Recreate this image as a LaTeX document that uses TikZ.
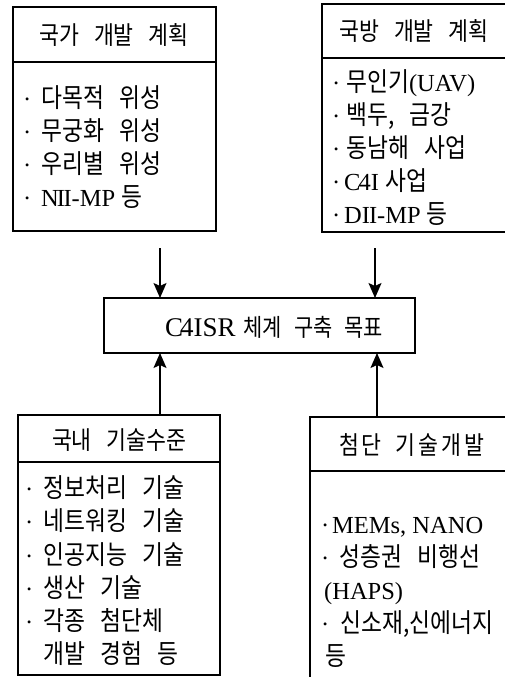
\documentclass[tikz,border=0pt]{standalone}
\usepackage{fontspec}
\setmainfont{Liberation Serif}
\newfontfamily\kr[Scale=1.08, WordSpace=3.0, FakeStretch=0.86]{Noto Sans CJK KR}
\usetikzlibrary{arrows.meta}
\newcommand{\bul}{\makebox[19pt][l]{\hspace{1pt}·}}
\begin{document}
\begin{tikzpicture}[x=1pt,y=-1pt,
  box/.style={draw, line width=1.6pt, inner sep=0pt, outer sep=0pt},
  hline/.style={line width=1.6pt},
  itm/.style={anchor=base west, inner sep=0pt, font=\fontsize{24.5}{26}\selectfont},
  ttl/.style={anchor=base, inner sep=0pt, font=\fontsize{23.3}{26}\selectfont\kr},
  arr/.style={line width=1.4pt, -{Stealth[length=15pt,width=13pt,inset=3pt]}}]
\useasboundingbox (0,0) rectangle (505,677);
\clip (0,0) rectangle (505,677);
% boxes
\node[box, minimum width=203pt, minimum height=224pt] (tl) at (114.5,119) {};
\node[box, minimum width=208pt, minimum height=228pt] (tr) at (426,118) {};
\node[box, minimum width=311pt, minimum height=55pt] (c) at (259.5,325.5) {};
\node[box, minimum width=202pt, minimum height=260pt] (bl) at (119,545) {};
\node[box, minimum width=220pt, minimum height=283pt] (br) at (420,558.5) {};
% header lines
\draw[hline] (tl.west |- 0,62) -- (tl.east |- 0,62);
\draw[hline] (tr.west |- 0,58) -- (tr.east |- 0,58);
\draw[hline] (bl.west |- 0,462) -- (bl.east |- 0,462);
\draw[hline] (br.west |- 0,471) -- (br.east |- 0,471);
% titles
\node[ttl] (tlt) at (114,45) {국가 개발 계획};
\node[ttl] (trt) at (414,41) {국방 개발 계획};
\node[ttl] (blt) at (119,449) {국내 기술수준};
\node[ttl] (brt) at (412,454) {첨\kern2pt 단 기\kern3pt 술\kern3pt 개\kern3pt 발};
% top-left items
\node[itm] (tl1) at (22,107) {\bul{\kr 다목적 위성}};
\node[itm] (tl2) at (22,140) {\bul{\kr 무궁화 위성}};
\node[itm] (tl3) at (22,173) {\bul{\kr 우리별 위성}};
\node[itm] (tl4) at (22,206) {\bul N\kern-2pt I\kern-1.5pt I-MP {\kr 등}};
% top-right items
\node[itm] (tr1) at (331,91) {\makebox[15pt][l]{\hspace{1pt}·}{\kr 무인기}(UAV)};
\node[itm] (tr2) at (331,124) {\makebox[15pt][l]{\hspace{1pt}·}{\kr 백두, 금강}};
\node[itm] (tr3) at (331,157) {\makebox[15pt][l]{\hspace{1pt}·}{\kr 동남해 사업}};
\node[itm] (tr4) at (331,190) {\makebox[13pt][l]{\hspace{1pt}·}C\kern-2pt4I {\kr 사업}};
\node[itm] (tr5) at (331,223) {\makebox[13pt][l]{\hspace{1pt}·}DI\kern-1pt I-MP {\kr 등}};
% center
\node[anchor=base west, inner sep=0pt, font=\fontsize{27}{28}\selectfont] (ct) at (165,336)
  {C\kern-3pt4ISR\hspace{8pt}{\fontsize{22.5}{26}\selectfont\kr 체계\hspace{12pt}구축\hspace{12pt}목표}};
% bottom-left items
\node[itm] (bl1) at (24,497) {\bul{\kr 정보처리 기술}};
\node[itm] (bl2) at (24,530) {\bul{\kr 네트워킹 기술}};
\node[itm] (bl3) at (24,564) {\bul{\kr 인공지능 기술}};
\node[itm] (bl4) at (24,597) {\bul{\kr 생산 기술}};
\node[itm] (bl5) at (24,630) {\bul{\kr 각종 첨단체}};
\node[itm] (bl6) at (43,663) {\kr 개발 경험 등};
% bottom-right items
\node[itm] (br1) at (320,533) {\makebox[12pt][l]{\hspace{1pt}·}MEMs, NANO};
\node[itm] (br2) at (320,566) {\makebox[19pt][l]{\hspace{1pt}·}{\kr 성층권 비행선}};
\node[itm] (br3) at (324,599) {(HAPS)};
\node[itm] (br4) at (320,632) {\makebox[20pt][l]{\hspace{1pt}·}{\kr 신소재,신에너지}};
\node[itm] (br5) at (325,665) {\kr 등};
% arrows
\coordinate (a1) at (160,248);
\coordinate (a2) at (375,248);
\coordinate (b1) at (160,415);
\coordinate (b2) at (377,417);
\draw[arr] (a1) -- (a1 |- c.north);
\draw[arr] (a2) -- (a2 |- c.north);
\draw[arr] (b1) -- (b1 |- c.south);
\draw[arr] (b2) -- (b2 |- c.south);
\end{tikzpicture}
\end{document}
